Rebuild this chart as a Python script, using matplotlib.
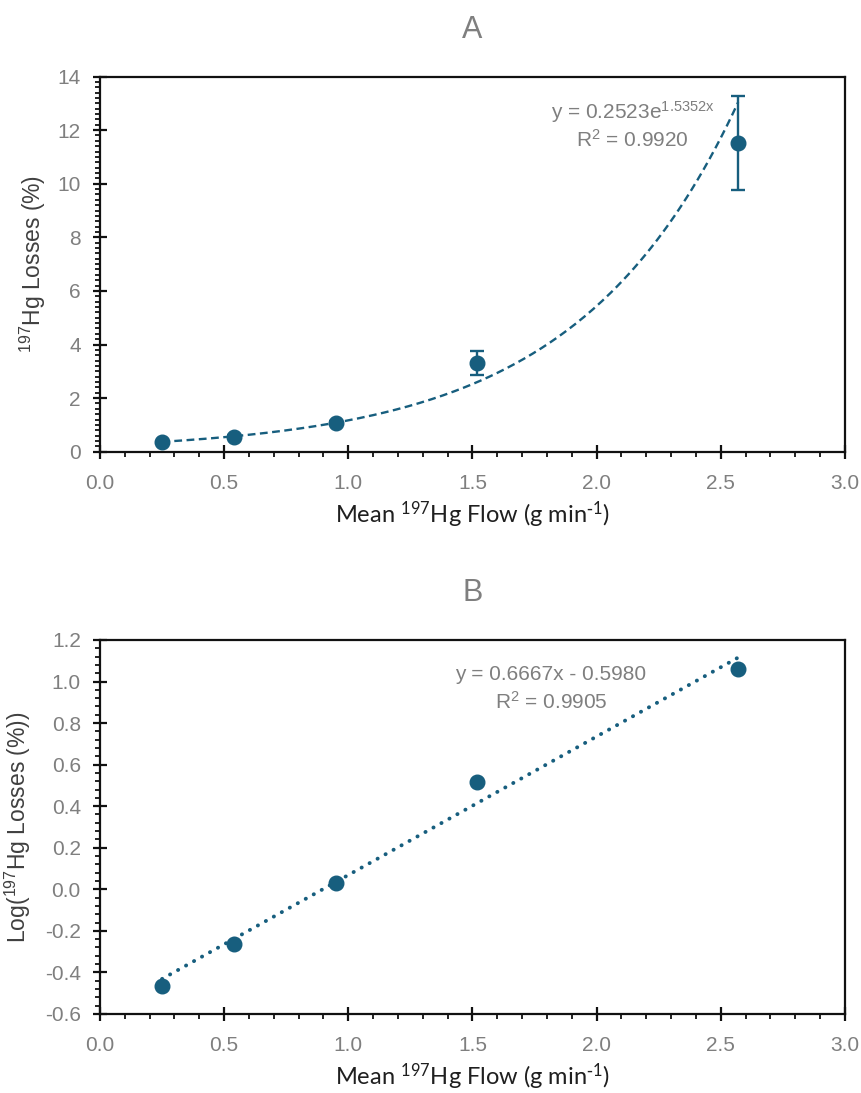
import numpy as np
import matplotlib
matplotlib.use('Agg')
import matplotlib.pyplot as plt
from matplotlib.ticker import MultipleLocator, FormatStrFormatter

# ---- data ----
flow = [0.25, 0.54, 0.95, 1.52, 2.57]          # Mean 197Hg flow (g/min)
losses = [0.37, 0.56, 1.08, 3.32, 11.53]       # 197Hg losses (%)
losses_err = [0.03, 0.05, 0.08, 0.45, 1.75]
log_losses = [-0.464, -0.263, 0.029, 0.516, 1.06]

exp_a, exp_b, exp_r2 = 0.2523, 1.5352, 0.9920  # y = a e^(bx)
lin_m, lin_c, lin_r2 = 0.6667, -0.5980, 0.9905  # y = mx + c

blue = '#175e7e'
gray = '#7f7f7f'

plt.rcParams['font.family'] = ['Liberation Sans', 'DejaVu Sans']
plt.rcParams['mathtext.default'] = 'regular'

fig = plt.figure(figsize = (8.61, 10.93), dpi = 100)
axA = fig.add_axes([0.1161, 0.5867, 0.8653, 0.3433])
axB = fig.add_axes([0.1161, 0.0723, 0.8653, 0.3422])

def style_axes(ax, ymajor, yminor, fmt):
    ax.set_xlim(0, 3.0)
    ax.xaxis.set_major_locator(MultipleLocator(0.5))
    ax.xaxis.set_minor_locator(MultipleLocator(0.1))
    ax.xaxis.set_major_formatter(FormatStrFormatter('%.1f'))
    ax.yaxis.set_major_locator(MultipleLocator(ymajor))
    ax.yaxis.set_minor_locator(MultipleLocator(yminor))
    ax.yaxis.set_major_formatter(FormatStrFormatter(fmt))
    for s in ax.spines.values():
        s.set_linewidth(1.6)
        s.set_color('#111111')
    ax.tick_params(which = 'major', direction = 'inout', length = 9.5, width = 1.6,
        labelsize = 15, labelcolor = gray, color = '#111111')
    ax.tick_params(which = 'minor', direction = 'out', length = 3.8, width = 1.3, color = '#111111')
    ax.tick_params(axis = 'x', which = 'major', pad = 11)
    ax.tick_params(axis = 'y', which = 'major', pad = 9)
    ax.tick_params(top = False, right = False, which = 'both')
    ax.set_xlabel('Mean $^{197}$Hg Flow (g min$^{\\text{-}1}$)', fontsize = 17, color = '#1f1f1f',
        family = ['Lato', 'DejaVu Sans'])
    ax.xaxis.set_label_coords(0.5, -0.128)

# ---- A ----
style_axes(axA, 2, 0.2, '%d')
axA.set_ylim(0, 14)
xfit = np.linspace(flow[0], flow[-1], 200)
axA.plot(xfit, exp_a*np.exp(exp_b*xfit), color = blue, lw = 1.7, dashes = (3.3, 1.9), zorder = 2)
axA.errorbar(flow, losses, yerr = losses_err, fmt = 'o', color = blue, ms = 10.5,
    elinewidth = 1.7, capsize = 4.8, capthick = 1.7, zorder = 3)
axA.text(2.146, 12.41, 'y = 0.2523e$^{1.5352x}$', ha = 'center', va = 'baseline',
    fontsize = 15, color = gray)
axA.text(2.146, 11.38, 'R$^2$ = {:.4f}'.format(exp_r2), ha = 'center', va = 'baseline',
    fontsize = 15, color = gray)
axA.set_ylabel('$^{197}$Hg Losses (%)', fontsize = 16.5, color = '#404040')
axA.yaxis.set_label_coords(-0.07, 0.5)
axA.set_title('A', fontsize = 22, color = gray, pad = 28)

# ---- B ----
style_axes(axB, 0.2, 0.04, '%.1f')
axB.set_ylim(-0.6, 1.2)
xfit = np.linspace(flow[0], flow[-1], 2)
axB.plot(xfit, lin_m*xfit + lin_c, color = blue, lw = 2.8, dashes = (0.05, 2.3),
    dash_capstyle = 'round', zorder = 2)
axB.plot(flow, log_losses, 'o', color = blue, ms = 10.5, zorder = 3)
axB.text(1.816, 1.007, 'y = {:.4f}x - {:.4f}'.format(lin_m, -lin_c), ha = 'center', va = 'baseline',
    fontsize = 15, color = gray)
axB.text(1.816, 0.868, 'R$^2$ = {:.4f}'.format(lin_r2), ha = 'center', va = 'baseline',
    fontsize = 15, color = gray)
axB.set_ylabel('Log($^{197}$Hg Losses (%))', fontsize = 16.5, color = '#404040')
axB.yaxis.set_label_coords(-0.09, 0.5)
axB.set_title('B', fontsize = 22, color = gray, pad = 28)

fig.savefig('out.png', dpi = 100)
